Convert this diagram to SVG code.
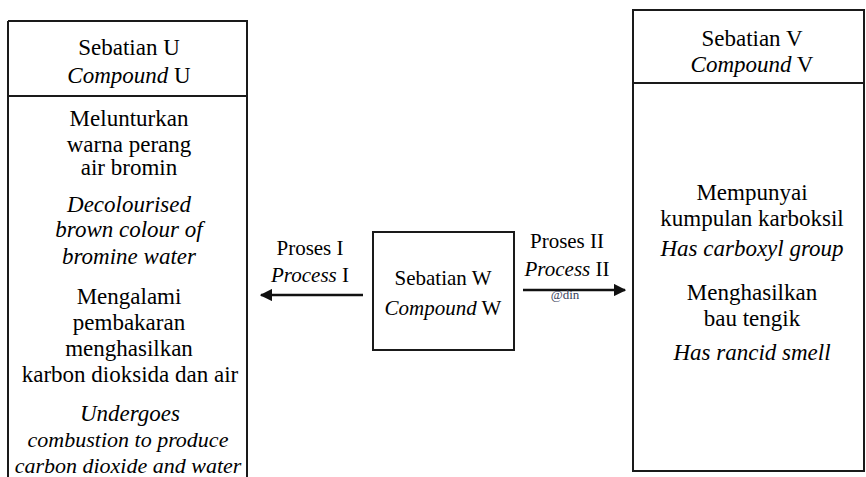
<svg xmlns="http://www.w3.org/2000/svg" width="866" height="477" viewBox="0 0 866 477">
<defs>
<style>
text{font-family:"Liberation Serif","Times New Roman",serif;fill:#000;text-anchor:middle}
.t{font-size:23px}
.s{font-size:22px}
.m{font-size:21px}
.i{font-style:italic}
.box{fill:none;stroke:#1a1a1a;stroke-width:2}
.arr{stroke:#111;stroke-width:2.5;fill:none}
.wm{font-size:13px;fill:#3a3f5c}
</style>
<marker id="ah" viewBox="0 0 10 10" refX="9" refY="5" markerWidth="5" markerHeight="5" orient="auto" markerUnits="strokeWidth">
<path d="M0,0 L10,5 L0,10 z" fill="#111"/>
</marker>
</defs>
<rect width="866" height="477" fill="#fff"/>

<g id="compound-u">
<path class="box" d="M8,21 L247,21 L247,480 M8,480 L8,21 M8,96 L247,96"/>
<text class="t" x="129" y="55">Sebatian U</text>
<text class="t" x="129" y="83"><tspan class="i">Compound</tspan> U</text>
<text class="t" x="129" y="126">Melunturkan</text>
<text class="t" x="129" y="152">warna perang</text>
<text class="t" x="129" y="175">air bromin</text>
<text class="t i" x="129" y="212">Decolourised</text>
<text class="t i" x="129" y="237">brown colour of</text>
<text class="t i" x="129" y="264">bromine water</text>
<text class="t" x="129" y="304">Mengalami</text>
<text class="t" x="129" y="330">pembakaran</text>
<text class="t" x="129" y="356">menghasilkan</text>
<text class="t" x="130" y="382">karbon dioksida dan air</text>
<text class="t i" x="130" y="421">Undergoes</text>
<text class="s i" x="128" y="447">combustion to produce</text>
<text class="s i" x="128" y="473">carbon dioxide and water</text>
</g>

<g id="compound-w">
<rect class="box" x="373" y="232" width="141" height="118"/>
<text class="m" x="443" y="285">Sebatian W</text>
<text class="m" x="443" y="315"><tspan class="i">Compound</tspan> W</text>
</g>

<g id="compound-v">
<rect class="box" x="633" y="10" width="231" height="461"/>
<line class="box" x1="633" y1="83" x2="864" y2="83"/>
<text class="t" x="752" y="46">Sebatian V</text>
<text class="t" x="752" y="72"><tspan class="i">Compound</tspan> V</text>
<text class="t" x="752" y="200">Mempunyai</text>
<text class="t" x="752" y="226">kumpulan karboksil</text>
<text class="t i" x="752" y="256">Has carboxyl group</text>
<text class="t" x="752" y="300">Menghasilkan</text>
<text class="t" x="752" y="326">bau tengik</text>
<text class="t i" x="752" y="360">Has rancid smell</text>
</g>

<g id="connectors">
<line class="arr" x1="363" y1="295" x2="261" y2="295" marker-end="url(#ah)"/>
<text class="m" x="310" y="255">Proses I</text>
<text class="m" x="310" y="282"><tspan class="i">Process</tspan> I</text>
<line class="arr" x1="523" y1="290" x2="625" y2="290" marker-end="url(#ah)"/>
<text class="m" x="567" y="248">Proses II</text>
<text class="m" x="567" y="276"><tspan class="i">Process</tspan> II</text>
<text class="wm" x="565" y="299">@din</text>
</g>
</svg>
